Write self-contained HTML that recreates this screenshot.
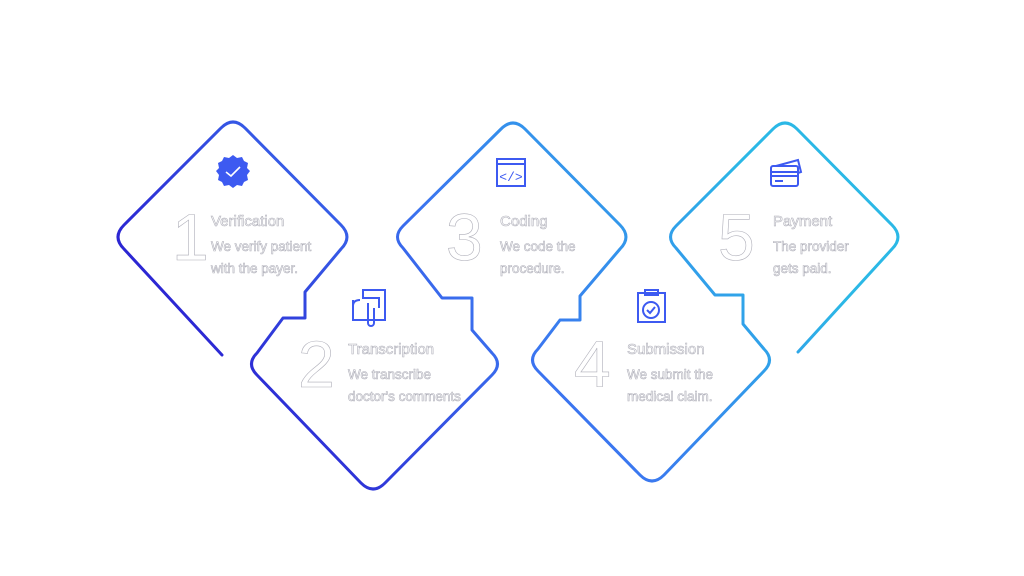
<!DOCTYPE html>
<html><head><meta charset="utf-8"><style>
html,body{margin:0;padding:0;background:#fff;}
body{width:1024px;height:576px;overflow:hidden;position:relative;font-family:"Liberation Sans",sans-serif;}
svg{position:absolute;left:0;top:0;}
.t{font-family:"Liberation Sans",sans-serif;fill:#fff;stroke:#b0b0ba;stroke-width:0.6;}
</style></head><body>
<svg width="1024" height="576" viewBox="0 0 1024 576">
<defs>
<linearGradient id="g" gradientUnits="userSpaceOnUse" x1="260" y1="470" x2="720" y2="130">
<stop offset="0" stop-color="#2a1fd0"/>
<stop offset="0.5" stop-color="#3b74f0"/>
<stop offset="1" stop-color="#2bb8e6"/>
</linearGradient>
</defs>
<path fill="none" stroke="url(#g)" stroke-width="3" stroke-linejoin="round" stroke-linecap="round" d="
M222,355 L124,249 Q112,237 124,225 L221,128 Q233,116 245,128 L341,225 Q353,237 341,249 L305,292 L305,318 L283,318 L257,353 Q246,364 257,375 L361,483 Q373,495 385,483 L492,375 Q503,364 492,353 L472,330 L472,298 L442,298 L403,248 Q392,237 403,226 L501,129 Q513,117 525,129 L620,225 Q632,237 620,249 L580,296 L580,320 L560,320 L538,349 Q527,360 538,371 L640,475 Q652,487 664,475 L764,371 Q775,360 764,349 L743,324 L743,295 L715,295 L676,248 Q665,237 676,226 L773,129 Q785,117 797,129 L892,225 Q904,237 892,249 L798,352"/>

<g fill="#3d5af1">
<polygon points="233,155 237,158 242,157 244,161 248,163 247,168 250,171 247,175 248,180 244,182 242,186 237,185 233,188 229,185 224,186 222,182 218,180 219,175 216,171 219,168 218,163 222,161 224,157 229,158"/>
</g>
<path d="M226,172 L231,176 L240,167" fill="none" stroke="#fff" stroke-width="1.6"/>
<g fill="none" stroke="#3d5af1" stroke-width="2">
<rect x="497" y="159" width="28" height="27"/>
<line x1="497" y1="164" x2="525" y2="164"/>
<text x="511" y="181" font-size="13" fill="#3d5af1" stroke="none" text-anchor="middle" font-family="Liberation Mono">&lt;/&gt;</text>
<path d="M353,300 v20 h32 v-30 h-22 v8 h16 v10 M360,300 q-7,0 -7,6 M368,303 v20 a3,3 0 0 0 6,0 v-15"/>
<rect x="638" y="293" width="27" height="29"/>
<rect x="645" y="290" width="13" height="5"/>
<circle cx="651" cy="310" r="8"/>
<path d="M647,310 l3,3 l5,-6"/>
<rect x="771" y="166" width="27" height="20" rx="2"/>
<line x1="771" y1="172" x2="798" y2="172"/>
<line x1="771" y1="176" x2="798" y2="176"/>
<path d="M776,166 l22,-6 l3,12 l-3,1"/>
<line x1="775" y1="181" x2="783" y2="181"/>
</g>

<g class="t" font-size="66">
<text x="172" y="260">1</text>
<text x="446" y="260">3</text>
<text x="298" y="387">2</text>
<text x="574" y="387">4</text>
<text x="718" y="260">5</text>
</g>
<g class="t" font-size="15">
<text x="211" y="226">Verification</text>
<text x="500" y="226">Coding</text>
<text x="348" y="354">Transcription</text>
<text x="627" y="354">Submission</text>
<text x="773" y="226">Payment</text>
</g>
<g class="t" font-size="13.5">
<text x="211" y="251">We verify patient</text>
<text x="211" y="273">with the payer.</text>
<text x="500" y="251">We code the</text>
<text x="500" y="273">procedure.</text>
<text x="348" y="379">We transcribe</text>
<text x="348" y="401">doctor's comments</text>
<text x="627" y="379">We submit the</text>
<text x="627" y="401">medical claim.</text>
<text x="773" y="251">The provider</text>
<text x="773" y="273">gets paid.</text>
</g>
</svg>
</body></html>
